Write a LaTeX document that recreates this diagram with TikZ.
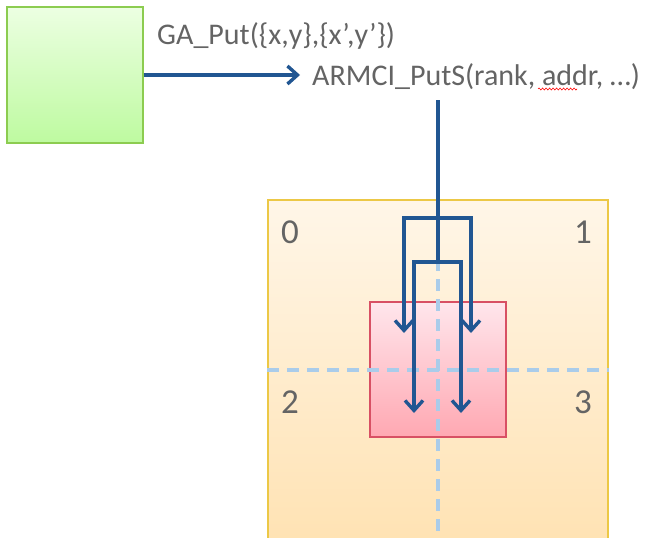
\documentclass[tikz,border=0pt]{standalone}
\usepackage{fontspec}
\setmainfont{Carlito}
\usetikzlibrary{arrows.meta,decorations.pathmorphing}
\definecolor{arrowblue}{RGB}{33,86,146}
\definecolor{txtgray}{RGB}{100,100,100}
\definecolor{dashblue}{RGB}{170,204,234}
\definecolor{greenedge}{RGB}{140,204,80}
\definecolor{greentop}{RGB}{236,255,226}
\definecolor{greenbot}{RGB}{190,250,160}
\definecolor{orangeedge}{RGB}{236,200,70}
\definecolor{orangetop}{RGB}{255,246,232}
\definecolor{orangebot}{RGB}{255,226,178}
\definecolor{rededge}{RGB}{216,80,100}
\definecolor{redtop}{RGB}{255,230,236}
\definecolor{redbot}{RGB}{255,168,178}
\tikzset{
  box/.style={draw, line width=1.2pt, inner sep=0pt},
  label/.style={text=txtgray, font=\fontsize{30}{34}\selectfont, inner sep=0pt},
  num/.style={text=txtgray, font=\fontsize{35}{40}\selectfont, inner sep=0pt},
  conn/.style={draw=arrowblue, line width=3.6pt, line join=miter},
  arrtip/.style={conn, -{Straight Barb[length=10pt,width=18pt,line width=3.4pt]}},
  grid/.style={draw=dashblue, line width=3.4pt, dash pattern=on 12pt off 8pt}
}
\begin{document}
\begin{tikzpicture}[x=1pt,y=-1pt]
\useasboundingbox (0,0) rectangle (646,538);
% boxes
\node[box, draw=greenedge, top color=greentop, bottom color=greenbot,
      minimum width=136pt, minimum height=136pt] (ga) at (75,75) {};
\node[box, draw=orangeedge, top color=orangetop, bottom color=orangebot,
      minimum width=340pt, minimum height=350pt] (mem) at (438,375) {};
\node[box, draw=rededge, top color=redtop, bottom color=redbot,
      minimum width=136pt, minimum height=135pt] (patch) at (438,369.5) {};
% grid lines
\draw[grid] (mem.north) -- (mem.south);
\draw[grid] (mem.west |- 0,370) -- (mem.east |- 0,370);
% texts
\node[label, anchor=base west] (gaput) at (157,45) {GA\_Put(\{x,y\},\{x’,y’\})};
\node[label, anchor=base west] (armci) at (312,85) {ARMCI\_PutS(rank, addr, …)};
\draw[red, line width=0.6pt, decorate, decoration={snake, amplitude=1pt, segment length=3.5pt}]
  (538,89) -- (577,89);
\node[num] (n0) at (290,232) {0};
\node[num] (n1) at (583,232) {1};
\node[num] (n2) at (290,402) {2};
\node[num] (n3) at (583,402) {3};
% connectors
\draw[arrtip] (ga.east) -- (ga.east -| armci.west) [shorten >=12pt];
\coordinate (trunk) at (438,100);
\coordinate (outer) at (438,218);
\coordinate (inner) at (438,262);
\draw[conn] (trunk) -- (inner);
\coordinate (t0) at (404,333);
\coordinate (t1) at (471,333);
\coordinate (t2) at (414,413);
\coordinate (t3) at (461,413);
\draw[arrtip] (outer) -| (t0);
\draw[arrtip] (outer) -| (t1);
\draw[arrtip] (inner) -| (t2);
\draw[arrtip] (inner) -| (t3);
\end{tikzpicture}
\end{document}
